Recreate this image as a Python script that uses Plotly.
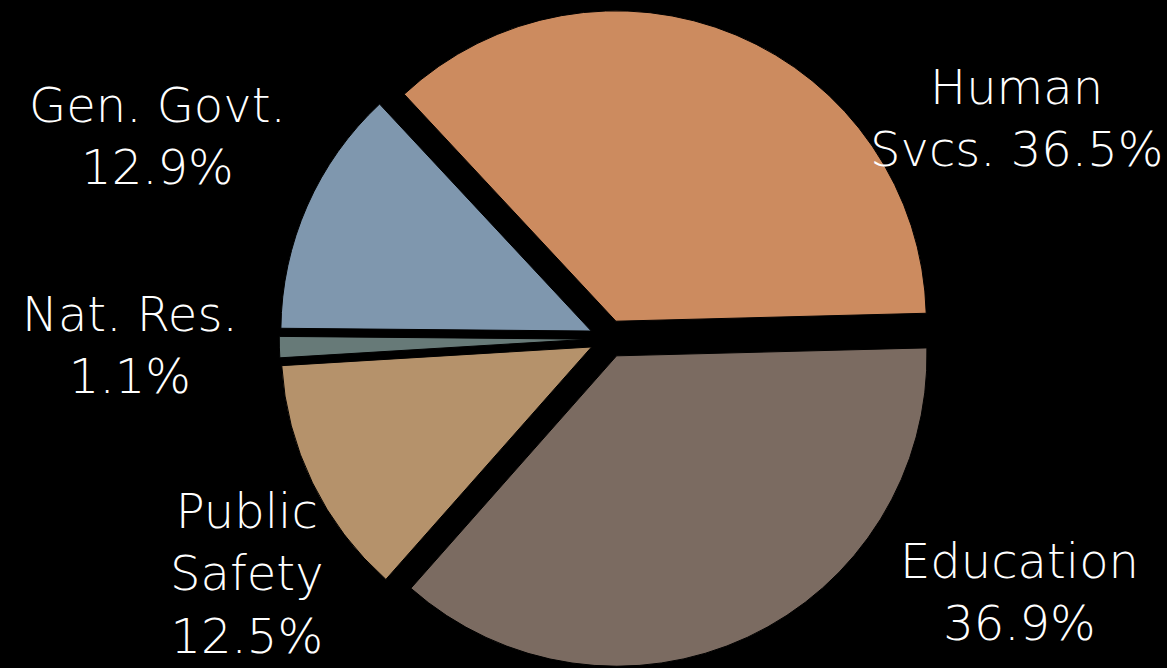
import plotly.graph_objects as go

# Budget shares by function (percent)
categories = ["Human Svcs.", "Education", "Public Safety", "Nat. Res.", "Gen. Govt."]
shares = [36.5, 36.9, 12.5, 1.1, 12.9]
label_text = ["Human<br>Svcs. 36.5%", "Education<br>36.9%", "Public<br>Safety<br>12.5%",
              "Nat. Res.<br>1.1%", "Gen. Govt.<br>12.9%"]

colors = ["#CC8B5F", "#7B6B61", "#B5926B", "#677A78", "#7F97AE"]
pulls = [0.061, 0.061, 0.061, 0.061, 0.061]

W, H = 1167, 668
# label block centres in pixels
label_pos = [(1017, 118), (1019, 592), (247, 573), (130, 345), (157, 136)]

cx = 0.5215
fig = go.Figure(go.Pie(
    labels=categories,
    values=shares,
    sort=False,
    direction="clockwise",
    rotation=-43,
    pull=pulls,
    marker=dict(colors=colors, line=dict(color="black", width=1)),
    textinfo="none",
    hoverinfo="label+percent",
    showlegend=False,
    domain=dict(x=[cx - 0.3, cx + 0.3], y=[0, 0.986]),
))

for txt, (px, py) in zip(label_text, label_pos):
    fig.add_annotation(
        x=px / W, y=1 - py / H, xref="paper", yref="paper",
        text=txt, showarrow=False, xanchor="center", yanchor="middle",
        font=dict(family="DejaVu Sans", size=48, color="white", weight=200),
        align="center",
    )

fig.update_layout(
    width=W, height=H,
    margin=dict(l=0, r=0, t=0, b=0),
    paper_bgcolor="black",
    plot_bgcolor="black",
)

fig.write_html("out.html")
